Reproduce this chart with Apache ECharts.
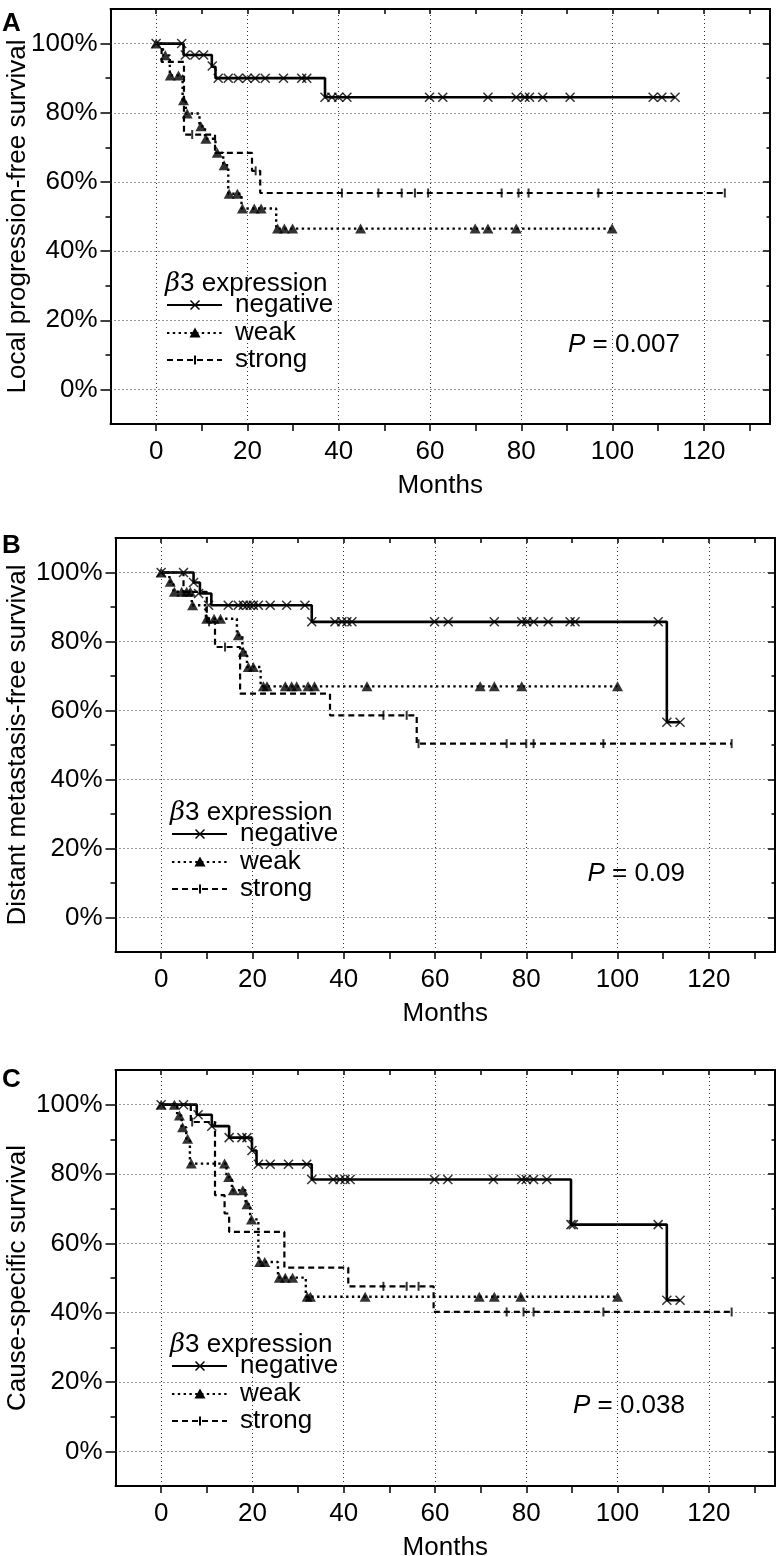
<!DOCTYPE html>
<html><head><meta charset="utf-8">
<script src="https://cdn.jsdelivr.net/npm/echarts@6/dist/echarts.min.js"></script>
<style>html,body{margin:0;padding:0;background:#fff}#c{width:783px;height:1556px}</style>
</head><body><div id="c"></div>
<script>
// ---------- tick labels / categories ----------
const monthLabels = [0, 20, 40, 60, 80, 100, 120];
const monthTicks = [0, 10, 20, 30, 40, 50, 60, 70, 80, 90, 100, 110, 120, 130];
const pctLabels = [0, 20, 40, 60, 80, 100];
const pctMinor = [10, 30, 50, 70, 90];
const groups = ['negative', 'weak', 'strong'];
const panelLetters = ['A', 'B', 'C'];
const yTitles = ['Local progression-free survival', 'Distant metastasis-free survival', 'Cause-specific survival'];
const pValues = ['0.007', '0.09', '0.038'];

// ---------- Panel A: [month, survival %] ----------
const aNegStep = [[0,100],[6,96.7],[12.2,93.3],[13,90],[37,84.5],[113.7,84.5]];
const aNegMarks = [[0,100],[5.6,100],[6.4,96.7],[8.5,96.7],[10.4,96.7],[12.3,93.5],[13.6,90],[15.8,90],[18,90],[19.9,90],[21.7,90],[23.9,90],[27.9,90],[31.9,90],[33,90],[37,84.5],[38.5,84.5],[40,84.5],[41.8,84.5],[59.9,84.5],[62.8,84.5],[72.7,84.5],[78.9,84.5],[80.8,84.5],[81.8,84.5],[84.7,84.5],[90.7,84.5],[108.9,84.5],[110.8,84.5],[113.7,84.5]];
const aWeakStep = [[0,100],[1.5,96.6],[3,90.8],[5.8,83.6],[6.5,79.8],[9.5,76.1],[10.7,72.5],[13,68.4],[14.7,64.8],[15.8,56.6],[18.7,52.3],[26.3,46.5],[100,46.5]];
const aWeakMarks = [[0,100],[2,96.6],[3.1,90.8],[4.9,90.8],[6,83.6],[6.8,79.8],[9.8,76.1],[10.9,72.5],[13.4,68.4],[14.9,64.8],[16,56.6],[17.8,56.6],[18.9,52.3],[21.5,52.3],[23,52.3],[26.6,46.5],[28.1,46.5],[29.9,46.5],[44.8,46.5],[69.9,46.5],[72.7,46.5],[78.9,46.5],[99.9,46.5]];
const aStrongStep = [[0,100],[1.2,94.7],[6.1,73.7],[12.9,68.4],[21,63.2],[22.8,56.8],[124.6,56.8]];
const aStrongMarks = [[7.9,73.7],[21.8,63.2],[40.7,56.8],[48.7,56.8],[53.8,56.8],[56.7,56.8],[59.6,56.8],[75.7,56.8],[79.4,56.8],[81.6,56.8],[96.9,56.8],[124.6,56.8]];

// ---------- Panel B ----------
const bNegStep = [[0,100],[7.1,97.1],[8.5,93.9],[11,90.5],[33,85.7],[110.8,56.6],[113.7,56.6]];
const bNegMarks = [[0,100],[4.9,100],[7.1,97.1],[8.2,93.9],[10.4,90.5],[14.7,90.5],[16.9,90.5],[18,90.5],[18.8,90.5],[19.5,90.5],[20.2,90.5],[21.3,90.5],[23.9,90.5],[27.5,90.5],[31.5,90.5],[33,85.7],[38.1,85.7],[39.6,85.7],[40.7,85.7],[41.8,85.7],[59.9,85.7],[62.9,85.7],[73,85.7],[79,85.7],[80.1,85.7],[81.6,85.7],[84.8,85.7],[89.6,85.7],[90.7,85.7],[108.9,85.7],[110.8,56.6],[113.7,56.6]];
const bWeakStep = [[0,100],[1.8,97.3],[2.7,94.4],[6.7,90.5],[9.8,86.6],[16.6,81.8],[17.8,77],[18.8,72.6],[21.8,67],[100,67]];
const bWeakMarks = [[0,100],[2,97.3],[2.9,94.4],[4.5,94.4],[5.6,94.4],[6.4,94.4],[6.9,90.5],[10,86.6],[11.6,86.6],[13,86.6],[16.9,81.8],[18,77],[19.1,72.6],[20.2,72.6],[22.4,67],[23.2,67],[27.2,67],[28.6,67],[29.7,67],[32.2,67],[33.6,67],[45.1,67],[69.9,67],[73,67],[79,67],[100,67]];
const bStrongStep = [[0,100],[4.9,94.4],[10,85.7],[11.8,78.4],[17.3,64.9],[37,58.6],[56,50.4],[125,50.4]];
const bStrongMarks = [[10.5,85.7],[14,78.4],[48.7,58.6],[53.8,58.6],[56.4,50.4],[75.7,50.4],[80,50.4],[81.6,50.4],[96.9,50.4],[125,50.4]];

// ---------- Panel C ----------
const cNegStep = [[0,100],[7.8,97.1],[11.1,93.8],[14.9,90.5],[19.9,86.8],[20.9,82.8],[33,78.4],[89.8,65.4],[110.8,43.6],[113.7,43.6]];
const cNegMarks = [[0,100],[4.9,100],[8.1,97.1],[11.1,93.8],[14.9,90.5],[17.7,90.5],[18.8,90.5],[19.9,86.8],[21.3,82.8],[23.9,82.8],[27.9,82.8],[31.9,82.8],[33,78.4],[37.7,78.4],[39.2,78.4],[40.3,78.4],[41.4,78.4],[59.9,78.4],[62.8,78.4],[72.8,78.4],[79,78.4],[80,78.4],[81.6,78.4],[84.5,78.4],[89.8,65.4],[90.3,65.4],[108.9,65.4],[110.8,43.6],[113.7,43.6]];
const cWeakStep = [[0,100],[3.5,96.9],[4.5,93.5],[5.5,90.2],[6.3,83],[14.3,79.1],[15.5,75.3],[18.5,71.3],[19.5,66.9],[21.3,54.6],[25.6,50.1],[31.7,44.6],[100,44.6]];
const cWeakMarks = [[0,100],[2.9,100],[4,96.9],[4.7,93.5],[5.8,90.2],[6.6,83],[13.9,83],[14.8,79.1],[15.8,75.3],[17.9,75.3],[18.8,71.3],[19.8,66.9],[21.6,54.6],[22.7,54.6],[25.9,50.1],[27.2,50.1],[28.8,50.1],[32,44.6],[32.7,44.6],[44.7,44.6],[69.7,44.6],[73,44.6],[78.8,44.6],[100,44.6]];
const cStrongStep = [[0,100],[6.5,95],[11.8,73.9],[13.9,68.6],[14.9,63.3],[27,53],[41,47.6],[59.7,40.2],[125,40.2]];
const cStrongMarks = [[6.8,95],[48.7,47.6],[53.8,47.6],[56.4,47.6],[75.7,40.2],[79.4,40.2],[81.6,40.2],[96.9,40.2],[125,40.2]];

const panelsData = [
  {neg: aNegStep, negM: aNegMarks, weak: aWeakStep, weakM: aWeakMarks, strong: aStrongStep, strongM: aStrongMarks},
  {neg: bNegStep, negM: bNegMarks, weak: bWeakStep, weakM: bWeakMarks, strong: bStrongStep, strongM: bStrongMarks},
  {neg: cNegStep, negM: cNegMarks, weak: cWeakStep, weakM: cWeakMarks, strong: cStrongStep, strongM: cStrongMarks}
];

// ---------- layout ----------
const FONT = '"Liberation Sans", Arial, Helvetica, sans-serif';
const FS = 26;
const grids = [
  {left: 110.5, top: 9, width: 659.5, height: 415},
  {left: 115.5, top: 538, width: 659.5, height: 414},
  {left: 115.5, top: 1070, width: 659.5, height: 416}
];
const letterY = [23.5, 546, 1080];
const CROSS = 'path://M0,0L10,10M0,10L10,0';
const DOT = [2.4, 3.4];
const DASH = [6, 4];

const option = {
  animation: false,
  backgroundColor: '#fff',
  grid: grids.map(g => Object.assign({containLabel: false, outerBoundsMode: 'none'}, g)),
  xAxis: [], yAxis: [], series: [], graphic: []
};

panelsData.forEach((pd, gi) => {
  const g = grids[gi];
  const xb = option.xAxis.length;
  option.xAxis.push({
    gridIndex: gi, type: 'value', position: 'bottom', min: -10, max: 134.5, interval: 10,
    axisLine: {show: true, onZero: false, lineStyle: {color: '#000', width: 2}},
    axisTick: {show: true, inside: false, length: 7, lineStyle: {color: '#000', width: 1.5}, customValues: monthTicks},
    axisLabel: {show: true, customValues: monthLabels, color: '#000', fontSize: FS, fontFamily: FONT, margin: 15,
      formatter: v => (v % 20 === 0 && v >= 0 && v <= 120) ? String(v) : ''},
    splitLine: {show: false},
    name: 'Months', nameLocation: 'middle', nameGap: 49, nameMoveOverlap: false,
    nameTextStyle: {color: '#000', fontSize: FS, fontFamily: FONT}
  });
  option.xAxis.push({
    gridIndex: gi, type: 'value', position: 'top', min: -10, max: 134.5, interval: 10,
    axisLine: {show: true, onZero: false, lineStyle: {color: '#000', width: 2}},
    axisTick: {show: true, inside: true, length: 5, lineStyle: {color: '#000', width: 1.5}, customValues: monthTicks},
    axisLabel: {show: false}, splitLine: {show: false}
  });
  const yl = option.yAxis.length;
  option.yAxis.push({
    gridIndex: gi, type: 'value', position: 'left', min: -10, max: 110, interval: 10,
    axisLine: {show: true, onZero: false, lineStyle: {color: '#000', width: 2}},
    axisTick: {show: true, inside: false, length: 10, lineStyle: {color: '#000', width: 1.5}, customValues: pctLabels},
    axisLabel: {show: true, customValues: pctLabels, color: '#000', fontSize: FS, fontFamily: FONT, margin: 13,
      formatter: v => (v % 20 === 0 && v >= 0 && v <= 100) ? v + '%' : ''},
    splitLine: {show: false},
    name: yTitles[gi], nameLocation: 'middle', nameGap: 80 + (g.left - 110.5), nameMoveOverlap: false,
    nameTextStyle: {color: '#000', fontSize: FS, fontFamily: FONT}
  });
  option.yAxis.push({
    gridIndex: gi, type: 'value', position: 'left', min: -10, max: 110, interval: 10,
    axisLine: {show: false, onZero: false},
    axisTick: {show: true, inside: false, length: 5, lineStyle: {color: '#000', width: 1.5}, customValues: pctMinor},
    axisLabel: {show: false}, splitLine: {show: false}
  });
  option.yAxis.push({
    gridIndex: gi, type: 'value', position: 'right', min: -10, max: 110, interval: 10,
    axisLine: {show: true, onZero: false, lineStyle: {color: '#000', width: 2}},
    axisTick: {show: true, inside: true, length: 7, lineStyle: {color: '#000', width: 1.5}, customValues: pctLabels},
    axisLabel: {show: false}, splitLine: {show: false}
  });
  option.yAxis.push({
    gridIndex: gi, type: 'value', position: 'right', min: -10, max: 110, interval: 10,
    axisLine: {show: false, onZero: false},
    axisTick: {show: true, inside: true, length: 3.5, lineStyle: {color: '#000', width: 1.5}, customValues: pctMinor},
    axisLabel: {show: false}, splitLine: {show: false}
  });

  const ax = {xAxisIndex: xb, yAxisIndex: yl};
  // dotted gridlines at labelled ticks
  option.series.push(Object.assign({
    type: 'line', data: [], silent: true, z: 1,
    markLine: {
      silent: true, symbol: ['none', 'none'], label: {show: false}, animation: false,
      lineStyle: {type: [1, 3], color: '#333', width: 1},
      emphasis: {disabled: true},
      data: monthLabels.map(v => ({xAxis: v})).concat(pctLabels.map(v => ({yAxis: v})))
    }
  }, ax));
  const lineBase = {type: 'line', step: 'end', showSymbol: false, symbol: 'none', silent: true, z: 3};
  option.series.push(Object.assign({}, lineBase, ax, {name: groups[0], data: pd.neg, lineStyle: {color: '#000', width: 2.6, type: 'solid'}}));
  option.series.push(Object.assign({}, lineBase, ax, {name: groups[1], data: pd.weak, lineStyle: {color: '#000', width: 2.4, type: DOT}}));
  option.series.push(Object.assign({}, lineBase, ax, {name: groups[2], data: pd.strong, lineStyle: {color: '#000', width: 2.2, type: DASH}}));
  option.series.push(Object.assign({type: 'scatter', silent: true, z: 4, data: pd.negM, symbol: CROSS, symbolSize: 9,
    itemStyle: {color: 'rgba(0,0,0,0)', borderColor: '#000', borderWidth: 1.5}}, ax));
  option.series.push(Object.assign({type: 'scatter', silent: true, z: 4, data: pd.weakM, symbol: 'triangle', symbolSize: [11, 10],
    itemStyle: {color: '#000'}}, ax));
  option.series.push(Object.assign({type: 'scatter', silent: true, z: 4, data: pd.strongM, symbol: 'rect', symbolSize: [2, 9],
    itemStyle: {color: '#000'}}, ax));

  // legend + annotations (layout only)
  const dx = g.left - 110.5, dy = g.top - 9;
  const lx1 = 167 + dx, lx2 = 222 + dx, mx = 195 + dx, tx = 235 + dx;
  const rows = [305 + dy, 333 + dy, 360 + dy];
  option.graphic.push({type: 'text', x: 2, y: letterY[gi], style: {text: panelLetters[gi], font: 'bold 26px ' + FONT, fill: '#000', verticalAlign: 'middle', align: 'left'}});
  option.graphic.push({type: 'text', x: 165 + dx, y: 284 + dy, style: {text: '{i|β}3 expression', font: FS + 'px ' + FONT, fill: '#000', verticalAlign: 'middle', align: 'left',
    rich: {i: {fontStyle: 'italic', fontSize: FS, fontFamily: 'DejaVu Serif, serif', fill: '#000'}}}});
  const dashes = [null, DOT, DASH];
  rows.forEach((ry, k) => {
    option.graphic.push({type: 'line', shape: {x1: lx1, y1: ry, x2: lx2, y2: ry}, style: {stroke: '#000', lineWidth: 2.2, lineDash: dashes[k]}});
    if (k === 0) {
      option.graphic.push({type: 'line', shape: {x1: mx - 4.5, y1: ry - 4.5, x2: mx + 4.5, y2: ry + 4.5}, style: {stroke: '#000', lineWidth: 1.5}});
      option.graphic.push({type: 'line', shape: {x1: mx - 4.5, y1: ry + 4.5, x2: mx + 4.5, y2: ry - 4.5}, style: {stroke: '#000', lineWidth: 1.5}});
    } else if (k === 1) {
      option.graphic.push({type: 'polygon', shape: {points: [[mx - 5.5, ry + 4.5], [mx + 5.5, ry + 4.5], [mx, ry - 5.5]]}, style: {fill: '#000'}});
    } else {
      option.graphic.push({type: 'rect', shape: {x: mx - 1, y: ry - 4.5, width: 2, height: 9}, style: {fill: '#000'}});
    }
    option.graphic.push({type: 'text', x: tx, y: ry, style: {text: groups[k], font: FS + 'px ' + FONT, fill: '#000', verticalAlign: 'middle', align: 'left'}});
  });
  option.graphic.push({type: 'text', x: 680 + dx, y: 345 + dy, style: {text: '{i|P} = ' + pValues[gi], font: FS + 'px ' + FONT, fill: '#000', verticalAlign: 'middle', align: 'right',
    rich: {i: {fontStyle: 'italic', fontSize: FS, fontFamily: FONT, fill: '#000'}}}});
});

const chart = echarts.init(document.getElementById('c'), null, {renderer: 'canvas'});
chart.setOption(option);
</script>
</body></html>
